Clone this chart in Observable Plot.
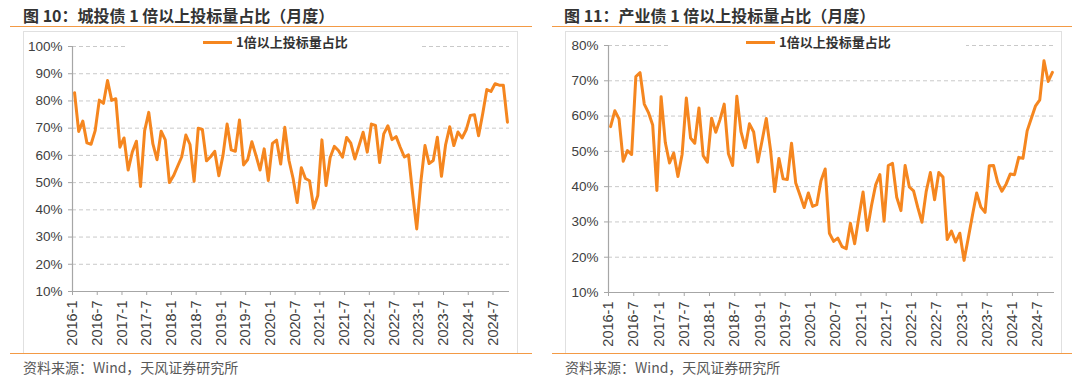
<!DOCTYPE html>
<html>
<head>
<meta charset="utf-8">
<script src="https://cdn.jsdelivr.net/npm/d3@7"></script>
<script src="https://cdn.jsdelivr.net/npm/@observablehq/plot@0.6"></script>
<style>
  body { margin: 0; background: #fff; }
  #root { position: relative; width: 1080px; height: 377px; background: #fff; overflow: hidden;
          font-family: "Liberation Sans", Arial, "Noto Sans CJK SC", sans-serif; }
  .title { position: absolute; font-family: "Noto Sans CJK SC", sans-serif; font-weight: 700;
           font-size: 16px; color: #333; line-height: 22px; white-space: nowrap; }
  .rule { position: absolute; height: 0; border-top: 1.5px solid #f39a45; }
  .box { position: absolute; border: 1px solid #e0e0e0; border-bottom: none; box-sizing: border-box; }
  .source { position: absolute; font-family: "Noto Sans CJK SC", sans-serif; font-size: 14px;
            color: #595959; line-height: 18px; white-space: nowrap; }
  .legend { position: absolute; background: #fff; height: 16px; }
  .legend .sw { position: absolute; top: 6px; height: 3px; background: #f5861f; }
  .legend .lt { position: absolute; top: -2px; font-family: "Noto Sans CJK SC", sans-serif; font-weight: 700;
                font-size: 13px; color: #333; line-height: 18px; white-space: nowrap; }
  .chart { position: absolute; }
</style>
</head>
<body>
<div id="root"></div>
<script>
// ---- Data ----
const startYear = 2016; // monthly series, 2016-1 .. 2024-10
const tickLabels = ["2016-1","2016-7","2017-1","2017-7","2018-1","2018-7","2019-1","2019-7","2020-1",
                    "2020-7","2021-1","2021-7","2022-1","2022-7","2023-1","2023-7","2024-1","2024-7"];
const seriesName = "1倍以上投标量占比";

// 图10 城投债 (%)
const chengtou = [
  83.0,68.8,72.6,64.6,64.1,69.1,80.3,79.1,87.5,80.2,80.8,63.0,
  66.4,54.6,61.2,65.2,48.6,69.1,75.8,64.2,58.4,68.9,65.7,50.0,
  52.5,56.0,59.5,67.5,64.0,50.5,70.0,69.5,58.0,59.5,61.5,52.5,
  60.0,71.5,62.0,61.5,73.0,56.5,58.5,65.0,60.0,54.6,62.4,50.8,
  64.4,65.6,56.8,70.3,58.2,51.6,42.7,55.5,51.5,50.7,40.7,45.3,
  65.7,48.9,59.2,63.3,61.8,59.3,66.6,64.5,58.7,63.6,68.5,61.2,
  71.5,71.0,57.4,67.9,70.9,65.8,66.9,63.0,59.4,60.2,45.9,33.0,
  50.3,63.6,57.0,58.1,66.7,52.3,63.9,70.5,63.6,68.6,66.4,69.4,
  74.7,74.9,67.2,75.3,84.2,83.5,86.3,85.8,85.8,72.2
];

// 图11 产业债 (%)
const chanye = [
  57.0,61.5,59.2,47.2,50.2,49.1,71.2,72.3,63.4,61.0,57.5,38.9,
  65.5,52.5,46.7,49.5,42.9,49.2,65.1,53.8,52.3,62.3,48.8,46.9,
  59.4,55.4,59.0,63.4,49.3,46.0,65.6,55.5,51.0,57.8,55.5,47.0,
  53.0,59.3,50.5,38.6,48.0,42.2,42.0,52.3,41.0,37.6,34.1,38.2,
  34.4,34.9,41.7,45.0,26.8,24.5,25.4,23.0,22.4,29.6,23.8,31.3,
  38.5,27.6,34.6,40.5,43.4,30.2,46.0,46.6,37.0,33.2,46.0,39.9,
  38.8,34.1,29.9,38.6,44.0,36.3,44.0,42.7,25.0,27.4,24.3,26.8,
  19.1,25.4,31.9,38.2,34.2,32.7,45.9,46.0,41.2,38.7,40.7,43.6,
  43.4,48.3,48.0,55.8,59.4,62.9,64.6,75.7,69.8,72.4
];

const yTicksLeft = [10,20,30,40,50,60,70,80,90,100];
const yTicksRight = [10,20,30,40,50,60,70,80];

// ---- Layout / drawing ----
const orange = "#f5861f";
const root = document.getElementById("root");

function el(cls, style, text) {
  const d = document.createElement("div");
  d.className = cls;
  Object.assign(d.style, style);
  if (text != null) d.textContent = text;
  root.appendChild(d);
  return d;
}

function monthLabel(i) {
  return `${startYear + Math.floor(i / 12)}-${(i % 12) + 1}`;
}

function panel(cfg) {
  el("title", {left: cfg.titleX + "px", top: "4px"}, cfg.title);
  el("rule", {left: cfg.ruleX0 + "px", width: (cfg.ruleX1 - cfg.ruleX0) + "px", top: "26px"});
  el("rule", {left: cfg.ruleX0 + "px", width: (cfg.ruleX1 - cfg.ruleX0) + "px", top: "353px"});
  el("box", {left: cfg.box.left + "px", top: cfg.box.top + "px", width: cfg.box.width + "px", height: (cfg.box.height + 1) + "px"});
  el("source", {left: cfg.box.left + "px", top: "358px"}, "资料来源：Wind，天风证券研究所");

  const data = cfg.values.map((v, i) => ({i, v, m: monthLabel(i)}));
  const n = data.length;
  const tickPos = tickLabels.map((_, k) => k * 6 - 0.5);
  const [y0, y1] = [cfg.yTicks[0], cfg.yTicks[cfg.yTicks.length - 1]];

  const chart = Plot.plot({
    width: cfg.box.width,
    height: cfg.box.height,
    marginLeft: cfg.m[3], marginRight: cfg.m[1], marginTop: cfg.m[0], marginBottom: cfg.m[2],
    style: {fontFamily: "'Liberation Sans', Arial, sans-serif", color: "#404040", background: "transparent", overflow: "visible"},
    x: {type: "linear", domain: [-0.5, n - 0.5], axis: null, label: null},
    y: {domain: [y0, y1], axis: null, label: null},
    marks: [
      Plot.gridY(cfg.yTicks.slice(1), {stroke: "#c9c9c9", strokeOpacity: 1, strokeDasharray: "4,3"}),
      Plot.ruleY([y0], {stroke: "#a6a6a6", strokeWidth: 1.2}),
      Plot.ruleX([-0.5], {stroke: "#a6a6a6", strokeWidth: 1.2}),
      Plot.axisY(cfg.yTicks, {tickFormat: d => d + "%", tickSize: 4, tickPadding: 6, stroke: "#a6a6a6",
                              fill: "#404040", fontSize: 13.5, anchor: "left", label: null}),
      Plot.axisX(tickPos, {tickFormat: d => tickLabels[Math.round((d + 0.5) / 6)], tickRotate: -90,
                           tickSize: 4, tickPadding: 5, stroke: "#a6a6a6", fill: "#404040", fontSize: 14.5,
                           anchor: "bottom", label: null}),
      Plot.line(data, {x: "i", y: "v", stroke: orange, strokeWidth: 3, strokeLinejoin: "round", strokeLinecap: "round"})
    ]
  });
  const holder = el("chart", {left: cfg.box.left + "px", top: cfg.box.top + "px"});
  holder.appendChild(chart);

  // legend (sits on top of the chart, with white background)
  const lg = el("legend", {left: cfg.legend.x0 + "px", top: "35px", width: (cfg.legend.x1 - cfg.legend.x0) + "px"});
  const sw = document.createElement("div"); sw.className = "sw";
  sw.style.left = (cfg.legend.sw0 - cfg.legend.x0) + "px"; sw.style.width = "29px";
  lg.appendChild(sw);
  const lt = document.createElement("div"); lt.className = "lt";
  lt.style.left = (cfg.legend.sw0 - cfg.legend.x0 + 33) + "px"; lt.textContent = seriesName;
  lg.appendChild(lt);
}

panel({
  title: "图 10：城投债 1 倍以上投标量占比（月度）",
  titleX: 23, ruleX0: 10, ruleX1: 532,
  box: {left: 23, top: 31, width: 495, height: 321},
  m: [15, 9, 61, 49],
  values: chengtou, yTicks: yTicksLeft,
  legend: {x0: 125, x1: 420, sw0: 203}
});

panel({
  title: "图 11：产业债 1 倍以上投标量占比（月度）",
  titleX: 564, ruleX0: 552, ruleX1: 1072,
  box: {left: 565, top: 31, width: 497, height: 321},
  m: [14, 8, 60, 43],
  values: chanye, yTicks: yTicksRight,
  legend: {x0: 668, x1: 966, sw0: 746}
});
</script>
</body>
</html>
